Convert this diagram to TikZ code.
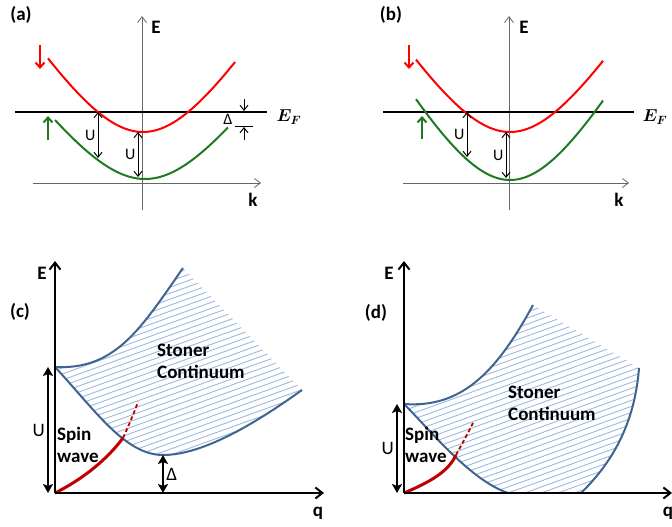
\documentclass[tikz,border=0pt]{standalone}
\usepackage{fontspec}
\setmainfont{Carlito}
\usetikzlibrary{arrows.meta}
\definecolor{bandred}{HTML}{FF0000}
\definecolor{bandgreen}{HTML}{1F7A1F}
\definecolor{swred}{HTML}{C00000}
\definecolor{edgeblue}{HTML}{41638F}
\definecolor{hatchblue}{HTML}{9DB9DF}

\begin{document}
\begin{tikzpicture}[
      x=1pt, y=-1pt,
      axis/.style={draw=black!60, line width=0.8pt, -{Straight Barb[length=6pt,width=9pt]}},
      bigaxis/.style={draw, line width=2pt, -{Straight Barb[length=7pt,width=11pt]}},
      fermi/.style={draw, line width=1.5pt},
      minband/.style={draw=bandred, line width=2pt},
      majband/.style={draw=bandgreen, line width=2pt},
      spinarrow/.style={line width=2pt, -{Straight Barb[length=5pt,width=9pt]}},
      gap/.style={draw, line width=1pt, {Straight Barb[length=5pt,width=8pt]}-{Straight Barb[length=5pt,width=8pt]}},
      tick/.style={draw, line width=1pt, -{Straight Barb[length=5pt,width=8pt]}},
      biggap/.style={draw, line width=2.5pt, {Stealth[length=9pt,width=10pt,inset=2pt]}-{Stealth[length=9pt,width=10pt,inset=2pt]}},
      edge/.style={draw=edgeblue, line width=2pt},
      hatch/.style={draw=hatchblue, line width=0.9pt},
      spinwave/.style={draw=swred, line width=3pt},
      lab/.style={font=\fontsize{19}{22}\selectfont\bfseries, inner sep=0pt},
      sym/.style={font=\fontsize{16}{19}\selectfont, inner sep=2pt},
      bigsym/.style={font=\fontsize{19}{22}\selectfont, inner sep=2pt},
      fermilab/.style={font=\fontsize{18}{21}\selectfont\boldmath, inner sep=0pt}
  ]
  \useasboundingbox (0,0) rectangle (672,527);

  % (a) bands, Delta > 0
  \node[lab] (alabel) at (21,15) {(a)};
  \coordinate (aEbot) at (142,210);
  \coordinate (aEtop) at (142,16);
  \draw[axis] (aEbot) -- (aEtop);
  \node[lab] (aE) at (156,27) {E};
  \coordinate (akL) at (33,183);
  \coordinate (akR) at (261,183);
  \draw[axis] (akL) -- (akR);
  \node[lab] (ak) at (253,200) {k};
  \coordinate (aFL) at (15,112);
  \coordinate (aFR) at (267,112);
  \draw[fermi] (aFL) -- (aFR);
  \node[fermilab] (aEF) at (289,117) {$E_F$};
  \draw[minband] plot[domain=48:235, samples=60] (\x, {132-120*(sqrt(1+((\x-143)/75)^2)-1)});
  \draw[majband] plot[domain=55:228, samples=60] (\x, {179-105*(sqrt(1+((\x-145)/75)^2)-1)});
  \coordinate (aDnT) at (40,45);
  \coordinate (aDnB) at (40,69);
  \draw[spinarrow, bandred] (aDnT) -- (aDnB);
  \coordinate (aUpB) at (48,140);
  \coordinate (aUpT) at (48,116);
  \draw[spinarrow, bandgreen] (aUpB) -- (aUpT);
  \coordinate (aU1t) at (98,112);
  \coordinate (aU1b) at (98,158);
  \draw[gap] (aU1t) -- node[left, sym] (aU1) {U} (aU1b);
  \coordinate (aU2t) at (138,132);
  \coordinate (aU2b) at (138,177);
  \draw[gap] (aU2t) -- node[left, sym] (aU2) {U} (aU2b);
  \coordinate (aDelT) at (244,99);
  \coordinate (aDelF) at (244,111);
  \draw[tick] (aDelT) -- (aDelF);
  \coordinate (aDelL) at (235,126);
  \coordinate (aDelR) at (253,126);
  \draw[fermi, line width=1pt] (aDelL) -- (aDelR);
  \coordinate (aDelB) at (244,140);
  \coordinate (aDelG) at (244,127);
  \draw[tick] (aDelB) -- (aDelG);
  \node[sym, inner sep=0pt] (aDel) at (228,119) {Δ};

  % (b) bands, Delta < 0
  \node[lab] (blabel) at (391,15) {(b)};
  \coordinate (bEbot) at (509,210);
  \coordinate (bEtop) at (509,16);
  \draw[axis] (bEbot) -- (bEtop);
  \node[lab] (bE) at (524,27) {E};
  \coordinate (bkL) at (403,183);
  \coordinate (bkR) at (629,183);
  \draw[axis] (bkL) -- (bkR);
  \node[lab] (bk) at (619,200) {k};
  \coordinate (bFL) at (383,112);
  \coordinate (bFR) at (634,112);
  \draw[fermi] (bFL) -- (bFR);
  \node[fermilab] (bEF) at (655,117) {$E_F$};
  \draw[minband] plot[domain=416:603, samples=60] (\x, {132-120*(sqrt(1+((\x-510)/75)^2)-1)});
  \draw[majband] plot[domain=416:603, samples=60] (\x, {180-134*(sqrt(1+((\x-510)/75)^2)-1)});
  \coordinate (bDnT) at (409,45);
  \coordinate (bDnB) at (409,69);
  \draw[spinarrow, bandred] (bDnT) -- (bDnB);
  \coordinate (bUpB) at (422,139);
  \coordinate (bUpT) at (422,116);
  \draw[spinarrow, bandgreen] (bUpB) -- (bUpT);
  \coordinate (bU1t) at (467,112);
  \coordinate (bU1b) at (467,157);
  \draw[gap] (bU1t) -- node[left, sym] (bU1) {U} (bU1b);
  \coordinate (bU2t) at (506,132);
  \coordinate (bU2b) at (506,178);
  \draw[gap] (bU2t) -- node[left, sym] (bU2) {U} (bU2b);

  % (c) excitations, gapped
  \begin{scope}
    \clip (55,367) .. controls (115,370) and (140,330) .. (183,268) -- (302,390)
      .. controls (260,420) and (205,455) .. (163,455)
      .. controls (125,455) and (95,410) .. (55,367) -- cycle;
    \foreach \s in {298,304,...,524}
      \draw[hatch] (40,\s) -- ++(300,-108);
  \end{scope}
  \coordinate (cTop) at (55,367);
  \coordinate (cUp) at (183,268);
  \coordinate (cMin) at (163,455);
  \coordinate (cEnd) at (302,390);
  \draw[edge] (cTop) .. controls (115,370) and (140,330) .. (cUp);
  \draw[edge] (cTop) .. controls (95,410) and (125,455) .. (cMin)
    .. controls (205,455) and (260,420) .. (cEnd);
  \coordinate (cO) at (55,493);
  \coordinate (cCross) at (123,438);
  \coordinate (cSwEnd) at (138,402);
  \draw[spinwave] (cO) .. controls (85,478) and (108,458) .. (cCross);
  \draw[spinwave, line width=1.8pt, dash pattern=on 4pt off 2.5pt] (cCross) .. controls (129,425) and (134,413) .. (cSwEnd);
  \coordinate (cEtop) at (55,261);
  \coordinate (cqR) at (324,493);
  \draw[bigaxis] (cO) -- (cEtop);
  \draw[bigaxis] (cO) -- (cqR);
  \node[lab] (cE) at (42,273) {E};
  \node[lab] (cq) at (318,513) {q};
  \node[lab] (clabel) at (20,312) {(c)};
  \coordinate (cUt) at (48,367);
  \coordinate (cUb) at (48,493);
  \draw[biggap] (cUt) -- node[left, bigsym] (cU) {U} (cUb);
  \coordinate (cDelT) at (163,455);
  \coordinate (cDelB) at (163,493);
  \draw[biggap] (cDelT) -- node[right, bigsym] (cDel) {Δ} (cDelB);
  \node[lab, align=left, anchor=west] (cSw) at (57,445) {Spin\\wave};
  \node[lab, align=left, anchor=west] (cSC) at (157,361) {Stoner\\Continuum};

  % (d) excitations, gapless
  \begin{scope}
    \clip (404,404) .. controls (460,408) and (495,375) .. (533,305) -- (639,368)
      .. controls (635,420) and (615,460) .. (581,493) -- (508,493)
      .. controls (470,480) and (430,430) .. (404,404) -- cycle;
    \foreach \s in {340,346,...,572}
      \draw[hatch] (400,\s) -- ++(260,-94);
  \end{scope}
  \coordinate (dTop) at (404,404);
  \coordinate (dUp) at (533,305);
  \coordinate (dLow) at (508,493);
  \coordinate (dRb) at (581,493);
  \coordinate (dRt) at (639,368);
  \draw[edge] (dTop) .. controls (460,408) and (495,375) .. (dUp);
  \draw[edge] (dTop) .. controls (430,430) and (470,480) .. (dLow);
  \draw[edge] (dRb) .. controls (615,460) and (635,420) .. (dRt);
  \coordinate (dO) at (404,493);
  \coordinate (dCross) at (456,455);
  \coordinate (dSwEnd) at (473,423);
  \draw[spinwave] (dO) .. controls (430,482) and (448,472) .. (dCross);
  \draw[spinwave, line width=1.8pt, dash pattern=on 4pt off 2.5pt] (dCross) .. controls (462,444) and (468,433) .. (dSwEnd);
  \coordinate (dEtop) at (404,261);
  \coordinate (dqR) at (672,493);
  \draw[bigaxis] (dO) -- (dEtop);
  \draw[bigaxis] (dO) -- (dqR);
  \node[lab] (dE) at (389,273) {E};
  \node[lab] (dq) at (668,513) {q};
  \node[lab] (dlabel) at (376,313) {(d)};
  \coordinate (dUt) at (397,404);
  \coordinate (dUb) at (397,493);
  \draw[biggap] (dUt) -- node[left, bigsym] (dU) {U} (dUb);
  \node[lab, align=left, anchor=west] (dSw) at (405,445) {Spin\\wave};
  \node[lab, align=left, anchor=west] (dSC) at (508,403) {Stoner\\Continuum};

\end{tikzpicture}
\end{document}
